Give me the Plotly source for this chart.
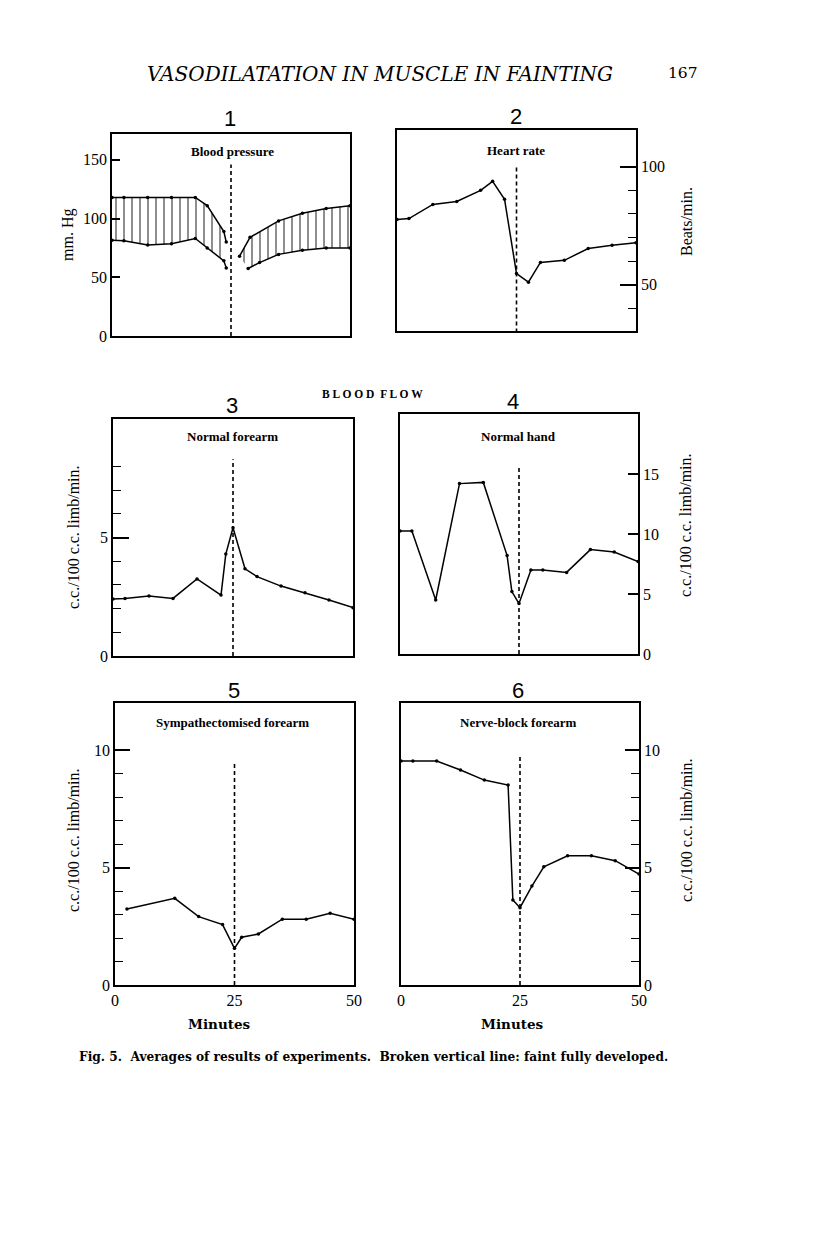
import plotly.graph_objects as go

# ---------------- data (minutes, values) ----------------
# Panel 1: blood pressure (mm Hg)
bp_left_x_sys = [0, 2.5, 7.5, 12.5, 17.5, 20, 23.5, 24]
bp_left_sys = [118, 118, 118, 118, 118, 111, 89, 80]
bp_left_x_dia = [0, 2.5, 7.5, 12.5, 17.5, 20, 23.5, 24]
bp_left_dia = [81.5, 81, 77.5, 78.5, 83, 75, 64, 58]
bp_right_x_sys = [26.8, 29, 35, 40, 45, 50]
bp_right_sys = [68, 84, 98, 104.5, 108.5, 111]
bp_right_x_dia = [28.6, 31, 35, 40, 45, 50]
bp_right_dia = [57.5, 62.5, 69.5, 73, 75, 75]

# Panel 2: heart rate (beats/min)
hr_x = [0, 2.5, 7.5, 12.5, 17.5, 20, 22.5, 25, 27.5, 30, 35, 40, 45, 50]
hr = [77.6, 78, 84, 85.3, 90, 93.8, 86.2, 54.7, 51, 59.4, 60.3, 65.3, 66.7, 67.7]

# Panel 3: normal forearm
nf_x = [0, 2.5, 7.5, 12.5, 17.5, 22.5, 23.5, 25, 27.5, 30, 35, 40, 45, 50]
nf = [2.41, 2.43, 2.53, 2.43, 3.25, 2.57, 4.3, 5.41, 3.68, 3.35, 2.95, 2.67, 2.36, 2.04]

# Panel 4: normal hand
nh_x = [0, 2.5, 7.5, 12.5, 17.5, 22.5, 23.5, 25, 27.5, 30, 35, 40, 45, 50]
nh = [10.25, 10.25, 4.5, 14.2, 14.3, 8.2, 5.2, 4.2, 7.0, 7.0, 6.8, 8.7, 8.5, 7.7]

# Panel 5: sympathectomised forearm
sf_x = [2.5, 12.5, 17.5, 22.5, 25, 26.5, 30, 35, 40, 45, 50]
sf = [3.23, 3.69, 2.91, 2.57, 1.56, 2.03, 2.17, 2.8, 2.8, 3.05, 2.8]

# Panel 6: nerve-block forearm
nb_x = [0, 2.5, 7.5, 12.5, 17.5, 22.5, 23.5, 25, 27.5, 30, 35, 40, 45, 50]
nb = [9.53, 9.53, 9.53, 9.15, 8.72, 8.51, 3.62, 3.29, 4.21, 5.03, 5.5, 5.5, 5.29, 4.72]

# broken vertical line: faint fully developed
faint_x = 25
faint_top = [146, 100.7, 8.3, 15.6, 9.4, 9.7]

panel_numbers = ["1", "2", "3", "4", "5", "6"]
panel_titles = ["Blood pressure", "Heart rate", "Normal forearm", "Normal hand",
                "Sympathectomised forearm", "Nerve-block forearm"]
x_ticks = [0, 25, 50]
y_major_ticks = [[0, 50, 100, 150], [50, 100], [0, 5], [0, 5, 10, 15], [0, 5, 10], [0, 5, 10]]
y_minor_ticks = [None, [40, 60, 70, 80, 90], [1, 2, 3, 4, 6, 7, 8], None,
                 [1, 2, 3, 4, 6, 7, 8, 9], [1, 2, 3, 4, 6, 7, 8, 9]]

# ---------------- layout helpers ----------------
PAGE_W, PAGE_H = 816, 1258
OFF = 8  # default page body margin
W, H = PAGE_W - OFF, PAGE_H - OFF
SERIF = "Liberation Serif"
WIDE = "DejaVu Serif"

def px(x):
    return (x - OFF) / W

def py(y):
    return 1 - (y - OFF) / H

def dx(a, b):
    return [px(a), px(b)]

def dy(top, bottom):
    return [py(bottom), py(top)]

# panel boxes in page pixels: (x0, x1, y0, y1)
boxes = [(112, 350, 134, 336), (397, 636, 130, 331),
         (113, 353, 419, 656), (400, 638, 414, 654),
         (115, 354, 703, 985), (401, 639, 703, 985)]
yranges = [[0, 172], [30.3, 115.6], [0, 10], [0, 20], [0, 12], [0, 12]]
ysides = ["left", "right", "left", "right", "left", "right"]
ymajlen = [8, 16, 16, 10, 15, 14]

fig = go.Figure()
layout = dict(width=W, height=H, margin=dict(l=0, r=0, t=0, b=0, autoexpand=False),
              paper_bgcolor="white", plot_bgcolor="white", showlegend=False,
              font=dict(family=SERIF, color="black"))

minor_axes = []
for i, (x0, x1, y0, y1) in enumerate(boxes):
    n = "" if i == 0 else str(i + 1)
    xa = dict(domain=dx(x0, x1), range=[0, 50], anchor="y" + n, automargin=False,
              showline=True, mirror=True, linecolor="black", linewidth=1.5,
              showgrid=False, zeroline=False, ticks="", fixedrange=True)
    if i >= 4:
        xa.update(showticklabels=True, tickvals=x_ticks,
                  tickfont=dict(family=SERIF, size=16, color="black"))
    else:
        xa.update(showticklabels=False)
    ya = dict(domain=dy(y0, y1), range=yranges[i], anchor="x" + n, side=ysides[i],
              automargin=False,
              showline=True, mirror=True, linecolor="black", linewidth=1.5,
              showgrid=False, zeroline=False, ticks="inside", tickvals=y_major_ticks[i],
              ticklen=ymajlen[i], tickwidth=1.5, tickcolor="black",
              tickfont=dict(family=SERIF, size=16, color="black"))
    layout["xaxis" + n] = xa
    layout["yaxis" + n] = ya
    if y_minor_ticks[i]:
        m = str(i + 7)
        layout["yaxis" + m] = dict(overlaying="y" + n, anchor="x" + n, side=ysides[i],
                                   range=yranges[i], automargin=False, showline=False,
                                   showgrid=False, zeroline=False, ticks="inside",
                                   tickvals=y_minor_ticks[i], ticklen=8, tickwidth=1.2,
                                   tickcolor="black", showticklabels=False)
        minor_axes.append(("x" + n, "y" + m))

fig.update_layout(**layout)

line_style = dict(color="black", width=1.5)
mark_style = dict(color="black", size=3.5)

def axes(i):
    n = "" if i == 0 else str(i + 1)
    return dict(xaxis="x" + n, yaxis="y" + n)

# empty traces so the minor-tick overlay axes get drawn
for xa_name, ya_name in minor_axes:
    fig.add_trace(go.Scatter(x=[None], y=[None], mode="lines", hoverinfo="skip",
                             xaxis=xa_name, yaxis=ya_name))

# Panel 1 hatched bands
hatch = dict(shape="|", size=8, solidity=0.22, fgcolor="black", bgcolor="white")
for xd, yd, xs, ys in [(bp_left_x_dia, bp_left_dia, bp_left_x_sys, bp_left_sys),
                       (bp_right_x_dia, bp_right_dia, bp_right_x_sys, bp_right_sys)]:
    fig.add_trace(go.Scatter(x=xd, y=yd, mode="lines+markers", line=line_style,
                             marker=mark_style, **axes(0)))
    fig.add_trace(go.Scatter(x=xs, y=ys, mode="lines+markers", line=line_style,
                             marker=mark_style, fill="tonexty", fillpattern=hatch,
                             fillcolor="white", **axes(0)))

series = [(hr_x, hr), (nf_x, nf), (nh_x, nh), (sf_x, sf), (nb_x, nb)]
for k, (xs, ys) in enumerate(series):
    fig.add_trace(go.Scatter(x=xs, y=ys, mode="lines+markers", line=line_style,
                             marker=mark_style, **axes(k + 1)))

# broken vertical lines
for i in range(6):
    fig.add_trace(go.Scatter(x=[faint_x, faint_x], y=[0, faint_top[i]], mode="lines",
                             line=dict(color="black", width=1.6, dash="4px,3px"),
                             **axes(i)))

# ---------------- annotations ----------------
ann = []
def text(x, y, s, size, bold=False, italic=False, angle=0, family=SERIF):
    if bold:
        s = "<b>" + s + "</b>"
    if italic:
        s = "<i>" + s + "</i>"
    ann.append(dict(x=px(x), y=py(y), xref="paper", yref="paper", text=s,
                    showarrow=False, textangle=angle, xanchor="center", yanchor="middle",
                    font=dict(family=family, size=size, color="black")))

text(380, 74, "VASODILATATION IN MUSCLE IN FAINTING", 20, italic=True, family=WIDE)
text(683, 73, "167", 15.5, family=WIDE)

num_pos = [(230, 119), (516, 117), (232, 405), (513, 402), (234, 690), (518, 690)]
title_pos = [(232, 152), (516, 150), (232, 436), (518, 436), (232, 722), (518, 722)]
for i in range(6):
    text(num_pos[i][0], num_pos[i][1], panel_numbers[i], 22, family="Liberation Sans")
    text(title_pos[i][0], title_pos[i][1], panel_titles[i], 13, bold=True)

text(372, 394, "B L O O D  F L O W", 11.5, bold=True)

text(68, 235, "mm. Hg", 16, angle=-90)
text(686, 222, "Beats/min.", 16, angle=-90)
text(73, 537, "c.c./100 c.c. limb/min.", 16, angle=-90)
text(685, 525, "c.c./100 c.c. limb/min.", 16, angle=-90)
text(73, 840, "c.c./100 c.c. limb/min.", 16, angle=-90)
text(686, 830, "c.c./100 c.c. limb/min.", 16, angle=-90)

text(219, 1024, "Minutes", 13.5, bold=True, family=WIDE)
text(512, 1024, "Minutes", 13.5, bold=True, family=WIDE)

text(373, 1057, "Fig. 5.  Averages of results of experiments.  Broken vertical line: faint fully developed.",
     12.2, bold=True, family=WIDE)

fig.update_layout(annotations=ann)
fig.write_html("out.html")
